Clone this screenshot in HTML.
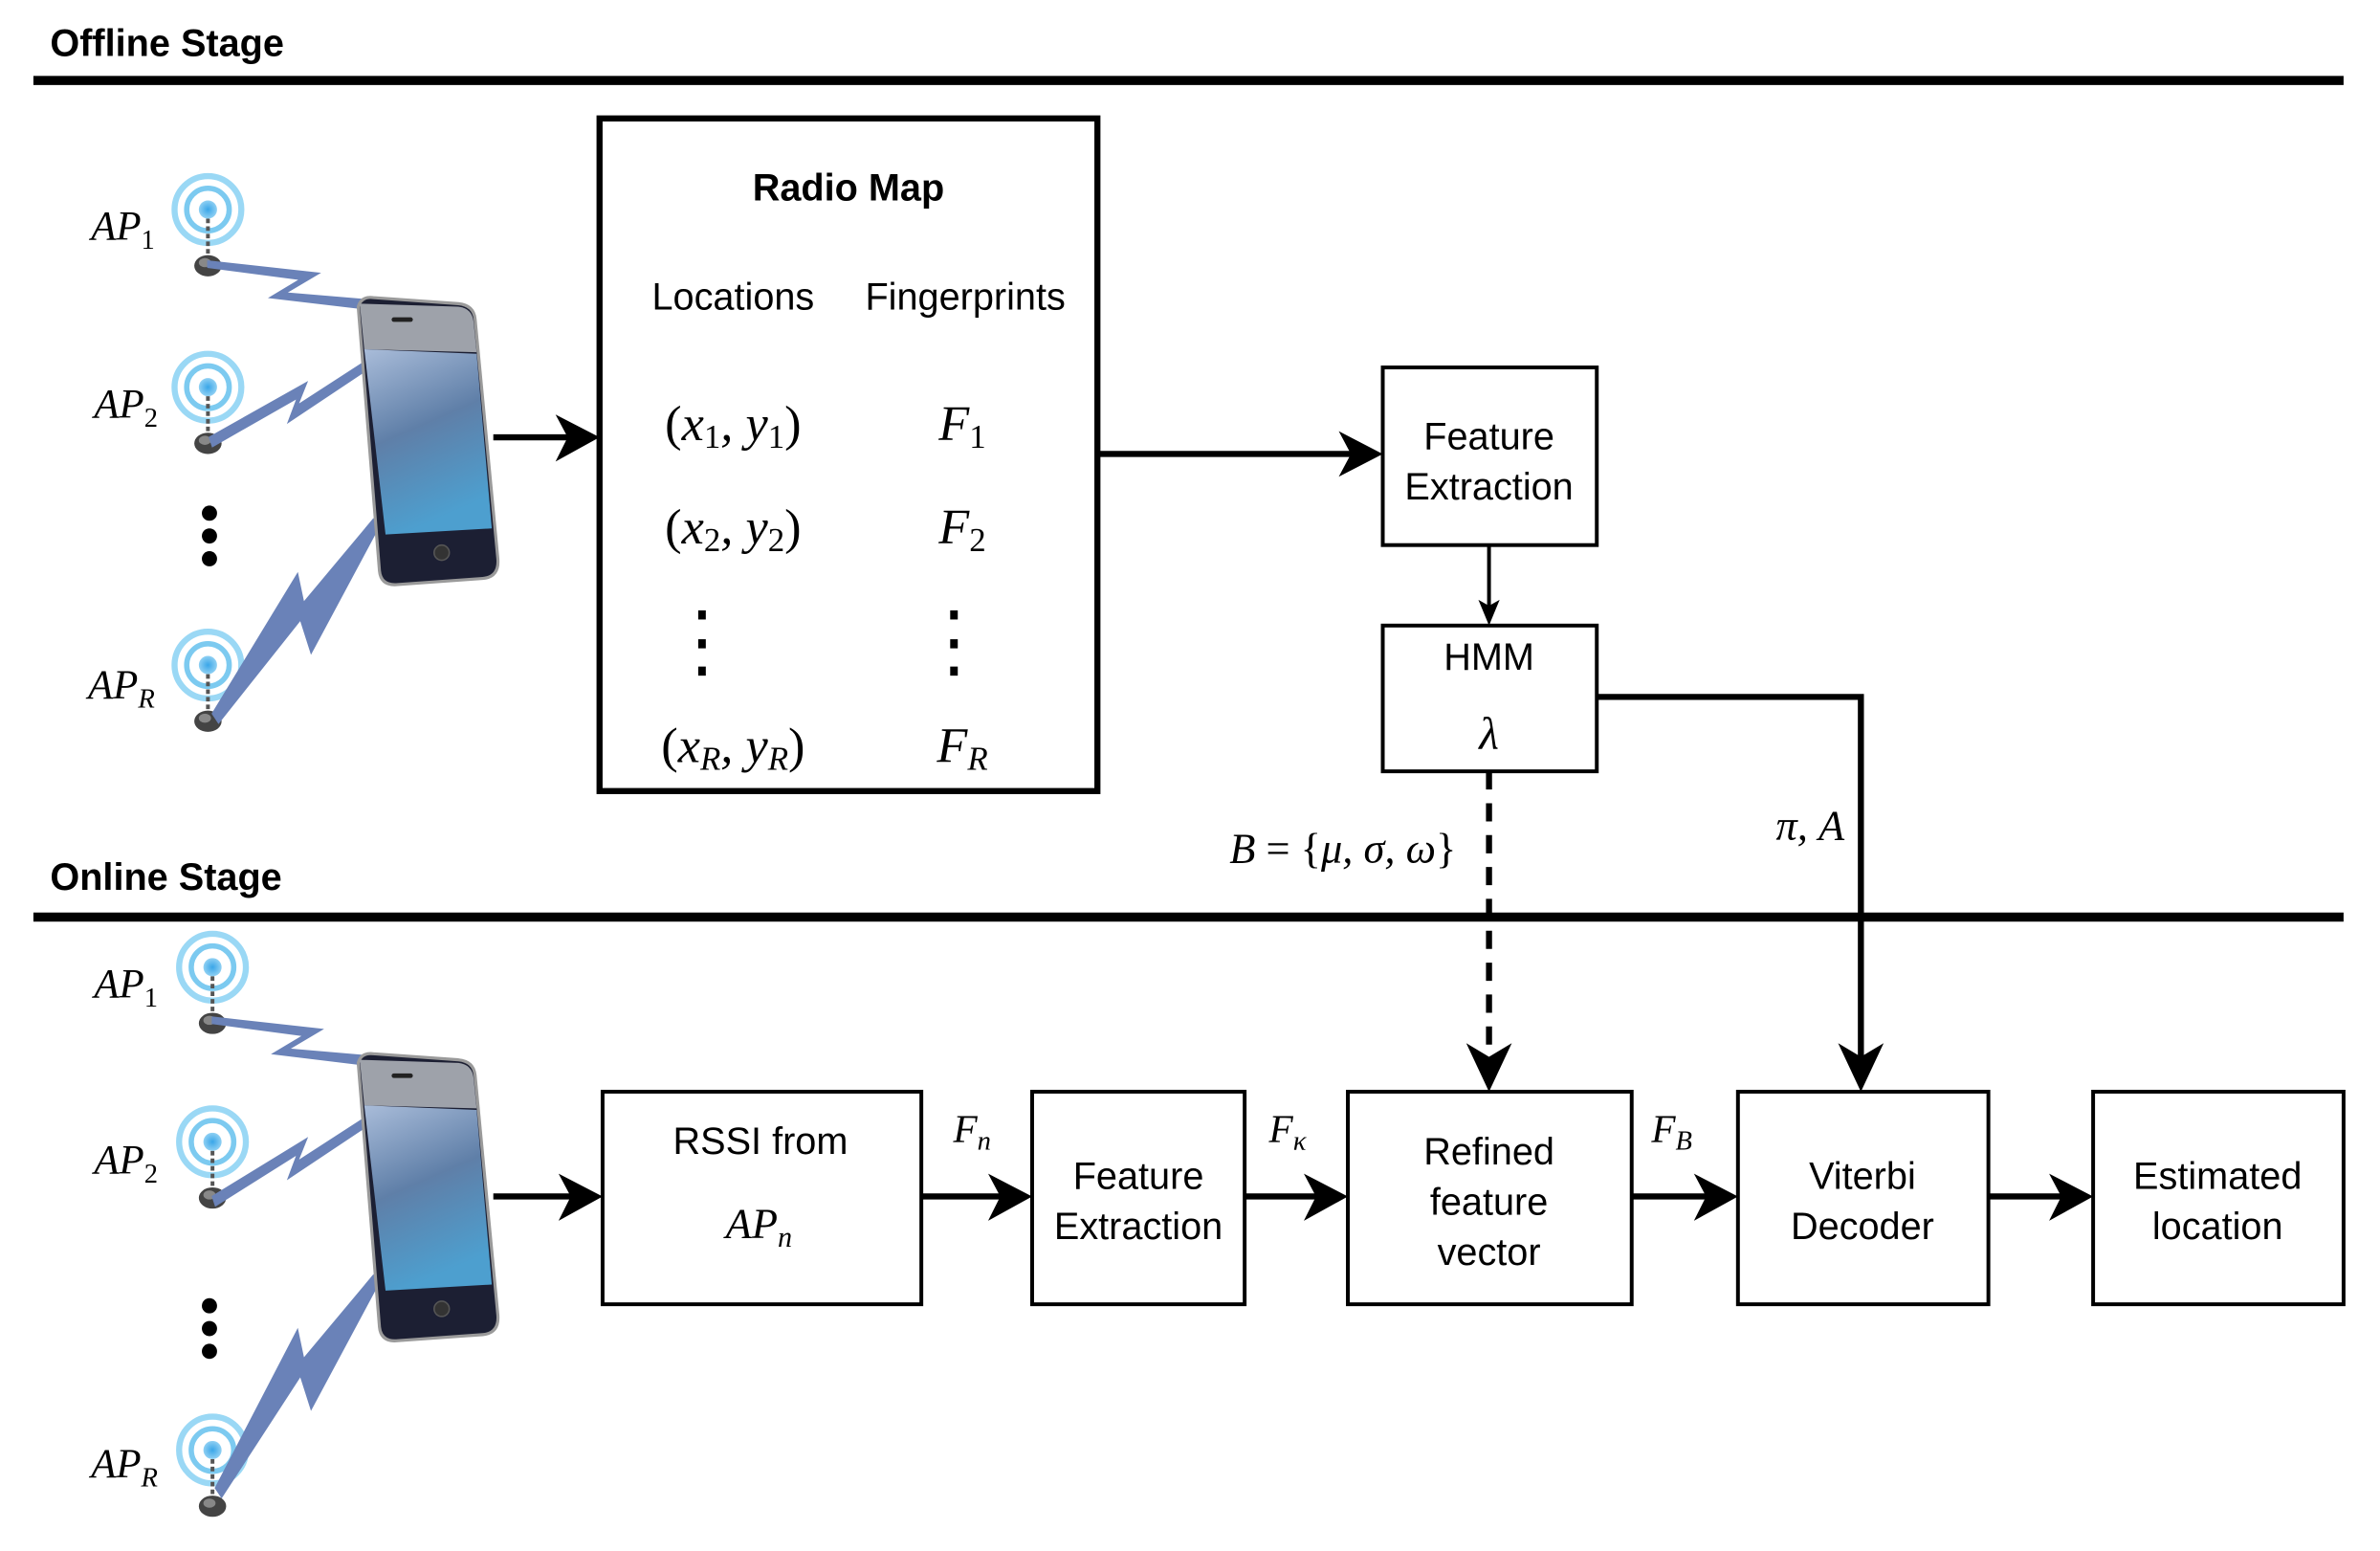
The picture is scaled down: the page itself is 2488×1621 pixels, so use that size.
<!DOCTYPE html>
<html><head><meta charset="utf-8"><style>
html,body{margin:0;padding:0;background:#fff;}
svg{display:block;}
.s{font-family:"Liberation Sans",sans-serif;fill:#000;}
.m{font-family:"Liberation Serif",serif;font-style:italic;fill:#000;}
</style></head><body>
<svg width="2488" height="1621" viewBox="0 0 1568 1021.5" preserveAspectRatio="none" xmlns="http://www.w3.org/2000/svg">
<defs>
<linearGradient id="scr" x1="0" y1="0" x2="0.3" y2="1">
<stop offset="0" stop-color="#a9bcd9"/><stop offset="0.5" stop-color="#5f7fa8"/><stop offset="1" stop-color="#4d9fcf"/></linearGradient>
<radialGradient id="apc" cx="0.5" cy="0.5" r="0.5"><stop offset="0" stop-color="#3aa6e8"/><stop offset="1" stop-color="#8fd0f3"/></radialGradient>
<g id="ap">
<circle cx="0" cy="0" r="22" fill="none" stroke="#9ad8f5" stroke-width="4"/>
<circle cx="0" cy="0" r="14" fill="none" stroke="#7ccaf0" stroke-width="3.5"/>
<circle cx="0" cy="0" r="6" fill="url(#apc)"/>
<line x1="0" y1="6" x2="0" y2="32" stroke="#555" stroke-width="2.5" stroke-dasharray="3,2"/>
<ellipse cx="0" cy="37" rx="9" ry="7" fill="#444"/>
<ellipse cx="-2" cy="35" rx="4" ry="3" fill="#888"/>
</g>
<g id="phone">
<path d="M236,202 Q238,195 246,196 L302,200 Q312,201 313,210 L328,368 Q329,380 318,381 L262,385 Q251,386 250,376 Z" fill="#1c1f33" stroke="#9a9a9a" stroke-width="2"/>
<path d="M237,200 L302,202 Q311,203 312,212 L314,232 L240,230 Z" fill="#9ea2aa"/>
<polygon points="240,230 314,233 324,348 254,352" fill="url(#scr)"/>
<rect x="258" y="209" width="14" height="3" rx="1.5" fill="#222"/>
<circle cx="291" cy="364" r="5" fill="#333" stroke="#555"/>
</g>
</defs>

<text x="33" y="37" class="s" font-size="25" font-weight="bold">Offline Stage</text>
<rect x="22" y="50" width="1522" height="6" fill="#000"/>

<use href="#ap" x="137" y="138"/>
<use href="#ap" x="137" y="255"/>
<use href="#ap" x="137" y="438"/>
<text x="60" y="158" class="m" font-size="27">AP<tspan font-size="18" dy="6" font-style="normal">1</tspan></text>
<text x="62" y="275" class="m" font-size="27">AP<tspan font-size="18" dy="6" font-style="normal">2</tspan></text>
<text x="58" y="460" class="m" font-size="27">AP<tspan font-size="18" dy="6">R</tspan></text>
<circle cx="138" cy="338" r="5" fill="#000"/><circle cx="138" cy="353" r="5" fill="#000"/><circle cx="138" cy="368" r="5" fill="#000"/>
<g fill="#6a82b8" stroke="#6a82b8" stroke-width="1">
<polygon points="137,172 210,180 188,193 248,198 246,204 178,196 198,184 137,176"/>
<polygon points="138,288 202,252 196,267 250,232 250,238 190,278 196,262 140,294"/>
<polygon points="140,470 196,378 200,397 246,342 250,346 205,430 198,408 144,476"/>
</g>
<use href="#phone"/>
<line x1="325" y1="288" x2="380" y2="288" stroke="#000" stroke-width="4"/>
<polygon points="395,288 366,273 374,288 366,304" fill="#000"/>

<rect x="395" y="78" width="328" height="443" fill="none" stroke="#000" stroke-width="4"/>
<text x="559" y="132" class="s" font-size="25" font-weight="bold" text-anchor="middle">Radio Map</text>
<text x="483" y="204" class="s" font-size="25" text-anchor="middle">Locations</text>
<text x="636" y="204" class="s" font-size="25" text-anchor="middle">Fingerprints</text>
<text x="483" y="290" class="m" font-size="33" text-anchor="middle"><tspan font-style="normal">(</tspan>x<tspan font-size="22" dy="5" font-style="normal">1</tspan><tspan dy="-5">, y</tspan><tspan font-size="22" dy="5" font-style="normal">1</tspan><tspan dy="-5" font-style="normal">)</tspan></text>
<text x="483" y="358" class="m" font-size="33" text-anchor="middle"><tspan font-style="normal">(</tspan>x<tspan font-size="22" dy="5" font-style="normal">2</tspan><tspan dy="-5">, y</tspan><tspan font-size="22" dy="5" font-style="normal">2</tspan><tspan dy="-5" font-style="normal">)</tspan></text>
<text x="483" y="502" class="m" font-size="33" text-anchor="middle"><tspan font-style="normal">(</tspan>x<tspan font-size="22" dy="5">R</tspan><tspan dy="-5">, y</tspan><tspan font-size="22" dy="5">R</tspan><tspan dy="-5" font-style="normal">)</tspan></text>
<text x="634" y="290" class="m" font-size="33" text-anchor="middle">F<tspan font-size="22" dy="5" font-style="normal">1</tspan></text>
<text x="634" y="358" class="m" font-size="33" text-anchor="middle">F<tspan font-size="22" dy="5" font-style="normal">2</tspan></text>
<text x="634" y="502" class="m" font-size="33" text-anchor="middle">F<tspan font-size="22" dy="5">R</tspan></text>
<g fill="#000"><rect x="460" y="402" width="5" height="6"/><rect x="460" y="421" width="5" height="6"/><rect x="460" y="439" width="5" height="6"/>
<rect x="626" y="402" width="5" height="6"/><rect x="626" y="421" width="5" height="6"/><rect x="626" y="439" width="5" height="6"/></g>

<line x1="723" y1="299" x2="895" y2="299" stroke="#000" stroke-width="4"/>
<polygon points="911,299 882,284 890,299 882,314" fill="#000"/>
<rect x="911" y="242" width="141" height="117" fill="#fff" stroke="#000" stroke-width="2.5"/>
<text x="981" y="296" class="s" font-size="25" text-anchor="middle">Feature</text>
<text x="981" y="329" class="s" font-size="25" text-anchor="middle">Extraction</text>
<line x1="981" y1="359" x2="981" y2="400" stroke="#000" stroke-width="2.5"/>
<polygon points="981,412 974,395 981,399 988,395" fill="#000"/>
<rect x="911" y="412" width="141" height="96" fill="#fff" stroke="#000" stroke-width="2.5"/>
<text x="981" y="441" class="s" font-size="25" text-anchor="middle">HMM</text>
<text x="981" y="493" class="m" font-size="30" text-anchor="middle">λ</text>

<polyline points="1052,459 1226,459 1226,700" fill="none" stroke="#000" stroke-width="4"/>
<polygon points="1226,719 1211,687 1226,696 1241,687" fill="#000"/>
<text x="1170" y="553" class="m" font-size="28">π, A</text>
<line x1="981" y1="508" x2="981" y2="700" stroke="#000" stroke-width="4" stroke-dasharray="12,9"/>
<polygon points="981,719 966,687 981,696 996,687" fill="#000"/>
<text x="810" y="568" class="m" font-size="28">B <tspan font-style="normal">= {</tspan>μ, σ, ω<tspan font-style="normal">}</tspan></text>

<text x="33" y="586" class="s" font-size="25" font-weight="bold">Online Stage</text>
<rect x="22" y="601" width="1522" height="6" fill="#000"/>

<use href="#ap" x="140" y="637"/>
<use href="#ap" x="140" y="752"/>
<use href="#ap" x="140" y="955"/>
<text x="62" y="657" class="m" font-size="27">AP<tspan font-size="18" dy="6" font-style="normal">1</tspan></text>
<text x="62" y="773" class="m" font-size="27">AP<tspan font-size="18" dy="6" font-style="normal">2</tspan></text>
<text x="60" y="973" class="m" font-size="27">AP<tspan font-size="18" dy="6">R</tspan></text>
<circle cx="138" cy="860" r="5" fill="#000"/><circle cx="138" cy="875" r="5" fill="#000"/><circle cx="138" cy="890" r="5" fill="#000"/>
<g transform="translate(0,498)">
<g fill="#6a82b8" stroke="#6a82b8" stroke-width="1">
<polygon points="140,172 212,180 190,193 248,198 246,204 180,196 200,184 140,176"/>
<polygon points="140,290 202,252 196,267 250,232 250,238 190,278 196,262 142,296"/>
<polygon points="142,482 196,378 200,397 246,342 250,346 205,430 198,408 146,488"/>
</g>
<use href="#phone"/>
</g>
<line x1="325" y1="788" x2="382" y2="788" stroke="#000" stroke-width="4"/>
<polygon points="397,788 368,773 376,788 368,804" fill="#000"/>

<g fill="none" stroke="#000" stroke-width="2.5">
<rect x="397" y="719" width="210" height="140"/>
<rect x="680" y="719" width="140" height="140"/>
<rect x="888" y="719" width="187" height="140"/>
<rect x="1145" y="719" width="165" height="140"/>
<rect x="1379" y="719" width="165" height="140"/>
</g>
<g stroke="#000" stroke-width="4">
<line x1="607" y1="788" x2="666" y2="788"/>
<line x1="820" y1="788" x2="874" y2="788"/>
<line x1="1075" y1="788" x2="1131" y2="788"/>
<line x1="1310" y1="788" x2="1365" y2="788"/>
</g>
<g fill="#000">
<polygon points="680,788 651,773 659,788 651,804"/>
<polygon points="888,788 859,773 867,788 859,804"/>
<polygon points="1145,788 1116,773 1124,788 1116,804"/>
<polygon points="1379,788 1350,773 1358,788 1350,804"/>
</g>
<text x="501" y="760" class="s" font-size="25" text-anchor="middle">RSSI from</text>
<text x="500" y="815" class="m" font-size="28" text-anchor="middle">AP<tspan font-size="19" dy="6">n</tspan></text>
<text x="750" y="783" class="s" font-size="25" text-anchor="middle">Feature</text>
<text x="750" y="816" class="s" font-size="25" text-anchor="middle">Extraction</text>
<text x="981" y="767" class="s" font-size="25" text-anchor="middle">Refined</text>
<text x="981" y="800" class="s" font-size="25" text-anchor="middle">feature</text>
<text x="981" y="833" class="s" font-size="25" text-anchor="middle">vector</text>
<text x="1227" y="783" class="s" font-size="25" text-anchor="middle">Viterbi</text>
<text x="1227" y="816" class="s" font-size="25" text-anchor="middle">Decoder</text>
<text x="1461" y="783" class="s" font-size="25" text-anchor="middle">Estimated</text>
<text x="1461" y="816" class="s" font-size="25" text-anchor="middle">location</text>
<text x="628" y="752" class="m" font-size="26">F<tspan font-size="18" dy="5">n</tspan></text>
<text x="836" y="752" class="m" font-size="26">F<tspan font-size="18" dy="5">κ</tspan></text>
<text x="1088" y="752" class="m" font-size="26">F<tspan font-size="18" dy="5">B</tspan></text>
</svg>
</body></html>
